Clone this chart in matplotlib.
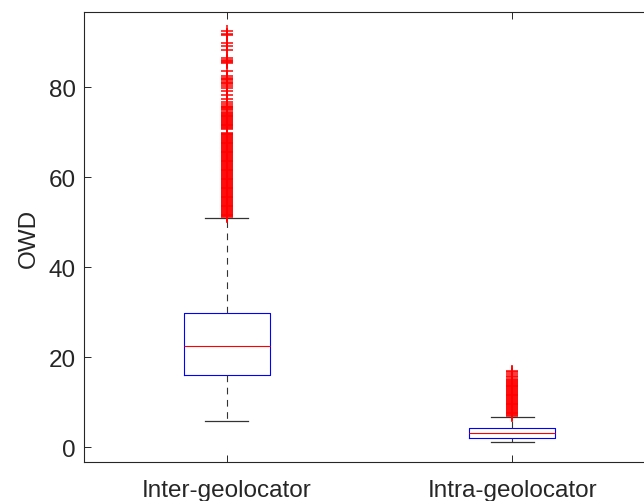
import numpy as np
import matplotlib.pyplot as plt

plt.rcParams['font.family'] = ['Liberation Sans', 'DejaVu Sans']

# groups and box statistics (OWD)
groups = ['Inter-geolocator', 'Intra-geolocator']
q1 = [16.0, 2.1]
median = [22.4, 3.1]
q3 = [29.8, 4.2]
whisker_lo = [5.8, 1.2]
whisker_hi = [50.9, 6.8]

# outliers (dense band 51-77, sparse above)
fliers_inter = [
    51.1, 51.3, 51.5, 51.7, 51.9, 52.1, 52.3, 52.5, 52.7, 52.9, 53.1, 53.3,
    53.5, 53.7, 53.9, 54.1, 54.3, 54.5, 54.7, 54.9, 55.1, 55.3, 55.5, 55.7,
    55.9, 56.1, 56.3, 56.5, 56.7, 56.9, 57.1, 57.3, 57.5, 57.7, 57.9, 58.1,
    58.3, 58.5, 58.7, 58.9, 59.1, 59.3, 59.5, 59.7, 59.9, 60.1, 60.3, 60.5,
    60.7, 60.9, 61.1, 61.3, 61.5, 61.7, 61.9, 62.1, 62.3, 62.5, 62.7, 62.9,
    63.1, 63.3, 63.5, 63.7, 63.9, 64.1, 64.3, 64.5, 64.7, 64.9, 65.1, 65.3,
    65.5, 65.7, 65.9, 66.1, 66.3, 66.5, 66.7, 66.9, 67.1, 67.3, 67.5, 67.7,
    67.9, 68.1, 68.3, 68.5, 68.7, 68.9, 69.1, 69.3, 69.5, 69.7, 69.9,
    70.7, 70.9, 71.1, 71.3, 71.5, 71.7, 71.9, 72.1, 72.3, 72.5, 72.7, 72.9,
    73.1, 73.3, 73.5, 73.7, 73.9, 74.1, 74.3, 74.4,
    74.9, 75.1, 75.3, 75.5, 75.7, 75.9, 76.2, 76.7, 77.3, 78.2, 79.2, 79.8,
    80.3, 80.6, 80.9, 81.2, 81.5, 81.8, 82.1, 82.4, 83.5, 85.3, 85.6, 85.9,
    86.1, 86.4, 88.2, 89.2, 89.9, 91.6, 91.9, 92.4,
]
fliers_intra = [
    6.9, 7.1, 7.3, 7.5, 7.7, 7.9, 8.1, 8.3, 8.5, 8.7, 8.9, 9.1, 9.3, 9.5,
    9.7, 9.9, 10.1, 10.3, 10.5, 10.7, 10.9, 11.1, 11.3, 11.5, 11.7, 11.9,
    12.1, 12.3, 12.5, 12.7, 12.9, 13.1, 13.3, 13.5, 13.7, 13.9, 14.1, 14.3,
    14.5, 14.7, 14.9, 15.2, 15.5, 15.8, 16.2, 16.6, 17.0,
]
fliers = [fliers_inter, fliers_intra]

stats = []
for i, name in enumerate(groups):
    stats.append({'label': name, 'med': median[i], 'q1': q1[i], 'q3': q3[i],
                  'whislo': whisker_lo[i], 'whishi': whisker_hi[i],
                  'fliers': np.array(fliers[i])})

fig = plt.figure(figsize=(6.44, 5.02), dpi=100)
# right edge of the axes falls just outside the canvas, like the reference crop
ax = fig.add_axes([84 / 644, 39 / 502, 571 / 644, 450 / 502])

ax.bxp(stats, positions=[1, 2], widths=0.3, capwidths=0.15,
       boxprops=dict(color='#0000ff', linewidth=0.8),
       medianprops=dict(color='#ff0000', linewidth=0.8),
       whiskerprops=dict(color='#333333', linewidth=0.8, linestyle=(0, (6, 5))),
       capprops=dict(color='#333333', linewidth=0.9),
       flierprops=dict(marker='+', markeredgecolor='#ff0000', markersize=8,
                       markeredgewidth=1.1, linestyle='none'))

ax.set_xlim(0.5, 2.5)
ax.set_ylim(-3.3, 96.7)
ax.set_yticks([0, 20, 40, 60, 80])
ax.set_xticks([1, 2])
ax.set_xticklabels(groups)
ax.set_ylabel('OWD', fontsize=17.5, color='#262626', labelpad=6)

ax.tick_params(direction='in', length=5, width=0.7, colors='#262626',
               labelsize=17.5, top=True, right=True, pad=6)
ax.tick_params(axis='x', pad=12)
for s in ax.spines.values():
    s.set_color('#262626')
    s.set_linewidth(0.8)

fig.savefig('out.png', dpi=100)
